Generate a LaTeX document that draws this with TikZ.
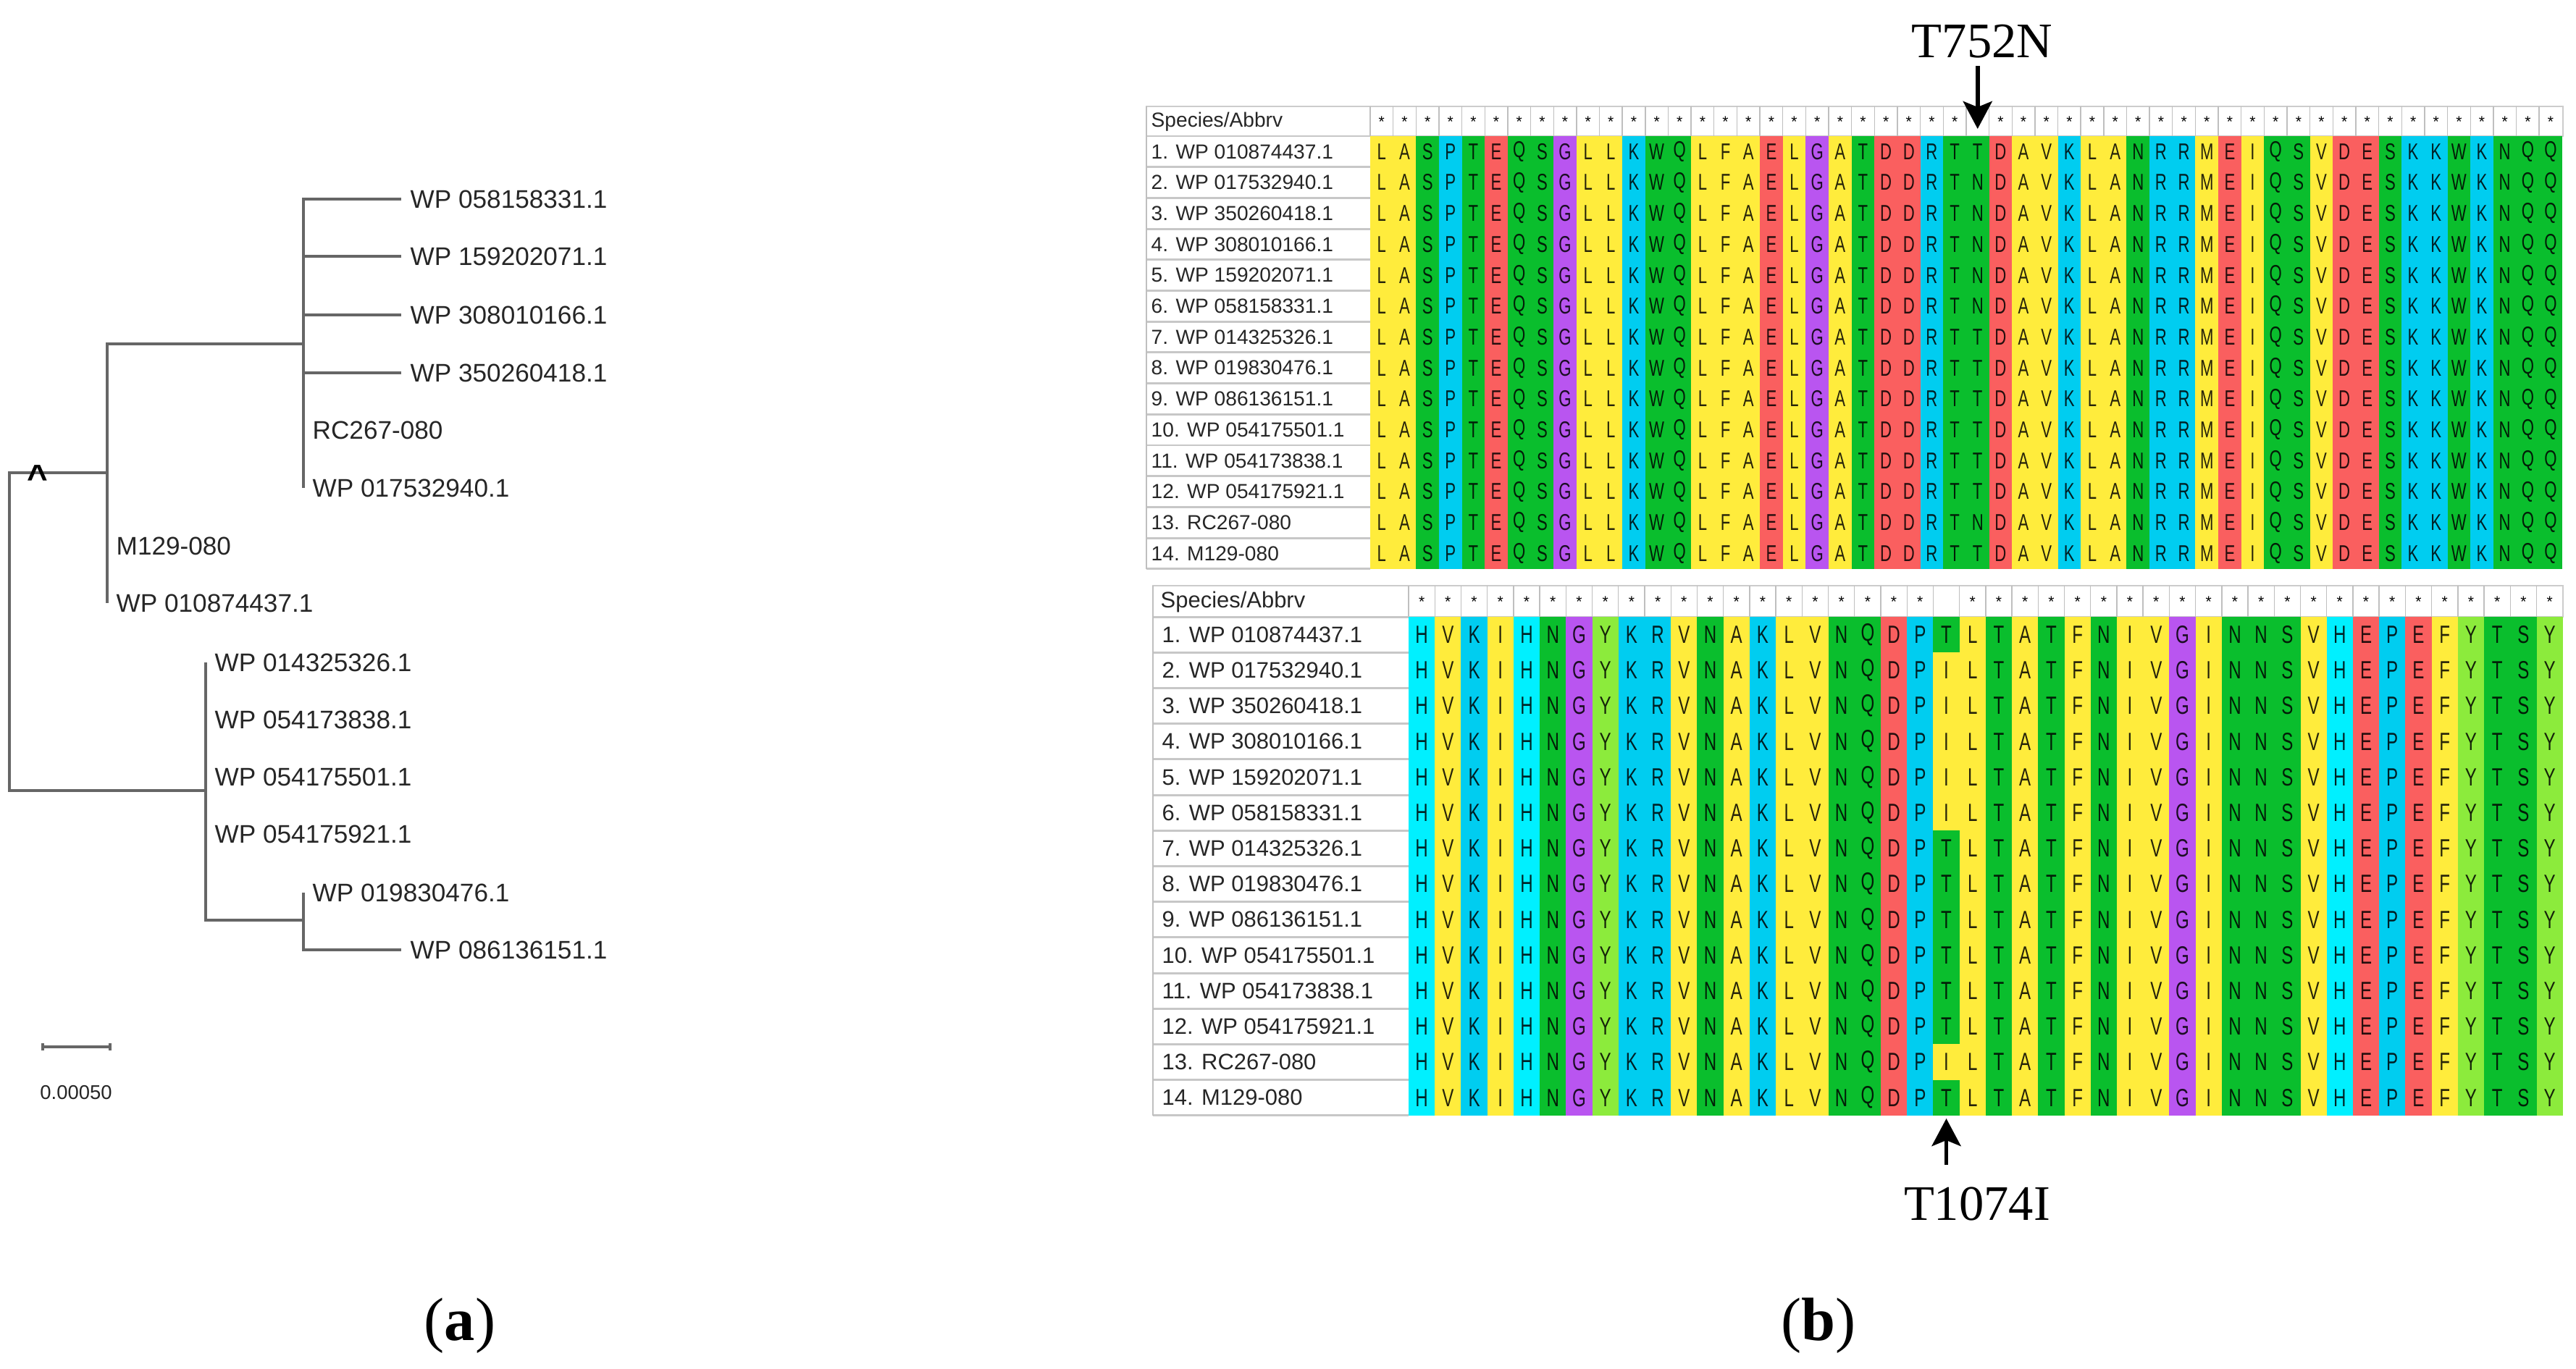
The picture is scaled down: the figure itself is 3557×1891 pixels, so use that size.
\documentclass[tikz,border=0pt]{standalone}
\usepackage{fontspec}
\setmainfont{Liberation Serif}
\setsansfont{Liberation Sans}
\newfontfamily\resfont[FakeStretch=0.7]{Liberation Sans}
\usetikzlibrary{arrows.meta}

\definecolor{resyellow}{RGB}{255,236,60}
\definecolor{resgreen}{RGB}{10,190,45}
\definecolor{rescyan}{RGB}{0,205,240}
\definecolor{resaqua}{RGB}{0,240,255}
\definecolor{resred}{RGB}{250,95,95}
\definecolor{respurple}{RGB}{185,85,240}
\definecolor{reslime}{RGB}{140,235,60}
\colorlet{resA}{resyellow}\colorlet{resV}{resyellow}\colorlet{resL}{resyellow}
\colorlet{resI}{resyellow}\colorlet{resM}{resyellow}\colorlet{resF}{resyellow}
\colorlet{resS}{resgreen}\colorlet{resT}{resgreen}\colorlet{resN}{resgreen}
\colorlet{resQ}{resgreen}\colorlet{resW}{resgreen}
\colorlet{resK}{rescyan}\colorlet{resR}{rescyan}\colorlet{resP}{rescyan}
\colorlet{resH}{resaqua}
\colorlet{resD}{resred}\colorlet{resE}{resred}
\colorlet{resG}{respurple}\colorlet{resY}{reslime}

\begin{document}
\begin{tikzpicture}[x=0.01cm,y=-0.01cm,
    branch/.style={draw=black!60,line width=1pt},
    leaf/.style={anchor=west,inner sep=0.12cm,text=black!85,
      font=\sffamily\fontsize{10pt}{12pt}\selectfont},
    hdr/.style={anchor=west,inner sep=0.06cm,text=black!85},
    star/.style={inner sep=0pt,font=\sffamily\fontsize{6pt}{6pt}\selectfont},
    sep/.style={draw=black!25,line width=0.4pt},
    rowsep/.style={draw=black!22,line width=0.85pt},
    restop/.style={inner sep=0pt,font=\resfont\fontsize{9pt}{9pt}\selectfont},
    resbot/.style={inner sep=0pt,font=\resfont\fontsize{9.8pt}{10pt}\selectfont},
    mut/.style={inner sep=0.1cm,font=\fontsize{19.5pt}{22pt}\selectfont},
    mutarrow/.style={-{Stealth[length=0.38cm,width=0.4cm,inset=0.08cm]},line width=1.6pt},
    panel/.style={font=\fontsize{24pt}{28pt}\selectfont}]
  \useasboundingbox[fill=white] (0,0) rectangle (3557,1891);

  % (a) tree
  \coordinate (nA)  at (148,653);
  \coordinate (nR)  at (13,872);
  \coordinate (nB)  at (284,1092);
  \coordinate (nA1) at (419,475);
  \coordinate (nB1) at (419,1271);
  \node[leaf] (l058)  at (554,275)  {WP 058158331.1};
  \node[leaf] (l159)  at (554,354)  {WP 159202071.1};
  \node[leaf] (l308)  at (554,435)  {WP 308010166.1};
  \node[leaf] (l350)  at (554,515)  {WP 350260418.1};
  \node[leaf] (lrc)   at (419,594)  {RC267-080};
  \node[leaf] (l0175) at (419,674)  {WP 017532940.1};
  \node[leaf] (lm129) at (148,754)  {M129-080};
  \node[leaf] (l0108) at (148,833)  {WP 010874437.1};
  \node[leaf] (l0143) at (284,915)  {WP 014325326.1};
  \node[leaf] (l0541) at (284,994)  {WP 054173838.1};
  \node[leaf] (l0545) at (284,1073) {WP 054175501.1};
  \node[leaf] (l0549) at (284,1152) {WP 054175921.1};
  \node[leaf] (l0198) at (419,1233) {WP 019830476.1};
  \node[leaf] (l0861) at (554,1312) {WP 086136151.1};
  \draw[branch] (nA) -| (nR) |- (nB);
  \draw[branch] (nA1) -| (l0108.west);
  \draw[branch] (l058.west) -| (l0175.west);
  \foreach \l in {l159,l308,l350}
    \draw[branch] (\l.west) -- (\l.west -| nA1);
  \draw[branch] (l0143.west) |- (nB1);
  \draw[branch] (l0198.west) |- (l0861.west);
  \node[font=\sffamily\bfseries\fontsize{14pt}{14pt}\selectfont] (caret) at (52,660) {\^{}};
  \coordinate (sb1) at (57,1446);
  \coordinate (sb2) at (154,1446);
  \draw[branch,{Bar[width=0.1cm]}-{Bar[width=0.1cm]}] (sb1) -- (sb2);
  \node[font=\sffamily\fontsize{7.8pt}{9pt}\selectfont,text=black!85] (sblab) at (105,1509) {0.00050};

  % (b) top alignment
  \fill[white,draw=black!20] (1583,147) rectangle (3539,188);
  \node[hdr,font=\sffamily\fontsize{8pt}{9pt}\selectfont] (sptop) at (1583,168) {Species/Abbrv};
  \foreach \rs [count=\c] in {L,A,S,P,T,E,Q,S,G,L,L,K,W,Q,L,F,A,E,L,G,A,T,D,D,R,T,T,D,A,V,K,L,A,N,R,R,M,E,I,Q,S,V,D,E,S,K,K,W,K,N,Q,Q}{
    \fill[res\rs] ({1892+(\c-1)*31.65},188) rectangle ++(31.65,598);
    \draw[sep] ({1892+(\c-1)*31.65},147) -- ++(0,41);
    \ifnum\c=27\else
      \node[star] at ({1892+(\c-0.5)*31.65},168) {*};
      \foreach \k in {1,...,14}
        \node[restop,text=res\rs!15!black] at ({1892+(\c-0.5)*31.65},{188+(\k-0.5)*42.7}) {\rs};
    \fi
  }
  \foreach \k/\m in {1/T,2/N,3/N,4/N,5/N,6/N,7/T,8/T,9/T,10/T,11/T,12/T,13/N,14/T}
    \node[restop,text=resT!15!black] at ({1892+26.5*31.65},{188+(\k-0.5)*42.7}) {\m};
  \draw[rowsep] (1583,188) -- (1892,188);
  \foreach \nm [count=\k] in {1. WP 010874437.1,2. WP 017532940.1,3. WP 350260418.1,4. WP 308010166.1,5. WP 159202071.1,6. WP 058158331.1,7. WP 014325326.1,8. WP 019830476.1,9. WP 086136151.1,10. WP 054175501.1,11. WP 054173838.1,12. WP 054175921.1,13. RC267-080,14. M129-080}{
    \node[hdr,font=\sffamily\fontsize{8pt}{9pt}\selectfont] (top\k) at (1583,{188+(\k-0.5)*42.7}) {\nm};
    \draw[rowsep] (1583,{188+\k*42.7}) -- (1892,{188+\k*42.7});
  }
  \draw[sep] (1583,147) -- (1583,786);

  \coordinate (tipA) at ({1892+26.5*31.65},178);
  \node[mut,anchor=base] (t752n) at (2737,80) {T752N};
  \draw[mutarrow] (t752n.south -| tipA) -- (tipA);

  % (b) bottom alignment
  \fill[white,draw=black!20] (1592,809) rectangle (3539,852);
  \node[hdr,font=\sffamily\fontsize{8.8pt}{10pt}\selectfont] (spbot) at (1596,831) {Species/Abbrv};
  \foreach \rs [count=\c] in {H,V,K,I,H,N,G,Y,K,R,V,N,A,K,L,V,N,Q,D,P,T,L,T,A,T,F,N,I,V,G,I,N,N,S,V,H,E,P,E,F,Y,T,S,Y}{
    \draw[sep] ({1945+(\c-1)*36.22},809) -- ++(0,43);
    \ifnum\c=21\else
      \fill[res\rs] ({1945+(\c-1)*36.22},852) rectangle ++(36.22,689);
      \node[star] at ({1945+(\c-0.5)*36.22},831) {*};
      \foreach \k in {1,...,14}
        \node[resbot,text=res\rs!15!black] at ({1945+(\c-0.5)*36.22},{852+(\k-0.5)*49.2}) {\rs};
    \fi
  }
  \foreach \k/\m in {1/T,2/I,3/I,4/I,5/I,6/I,7/T,8/T,9/T,10/T,11/T,12/T,13/I,14/T}{
    \fill[res\m] ({1945+20*36.22},{852+(\k-1)*49.2}) rectangle ++(36.22,49.2);
    \node[resbot,text=res\m!15!black] at ({1945+20.5*36.22},{852+(\k-0.5)*49.2}) {\m};
  }
  \draw[rowsep] (1592,852) -- (1945,852);
  \foreach \nm [count=\k] in {1. WP 010874437.1,2. WP 017532940.1,3. WP 350260418.1,4. WP 308010166.1,5. WP 159202071.1,6. WP 058158331.1,7. WP 014325326.1,8. WP 019830476.1,9. WP 086136151.1,10. WP 054175501.1,11. WP 054173838.1,12. WP 054175921.1,13. RC267-080,14. M129-080}{
    \node[hdr,font=\sffamily\fontsize{8.8pt}{10pt}\selectfont] (bot\k) at (1598,{852+(\k-0.5)*49.2}) {\nm};
    \draw[rowsep] (1592,{852+\k*49.2}) -- (1945,{852+\k*49.2});
  }
  \draw[sep] (1592,809) -- (1592,1541);

  \coordinate (tipB) at ({1945+20.5*36.22},1545);
  \node[mut,anchor=base] (t1074i) at (2730,1685) {T1074I};
  \draw[mutarrow,shorten <=0.2cm] (t1074i.north -| tipB) -- (tipB);

  % panel labels
  \node[panel] (pa) at (635,1831) {(\textbf{a})};
  \node[panel] (pb) at (2511,1831) {(\textbf{b})};
\end{tikzpicture}
\end{document}
